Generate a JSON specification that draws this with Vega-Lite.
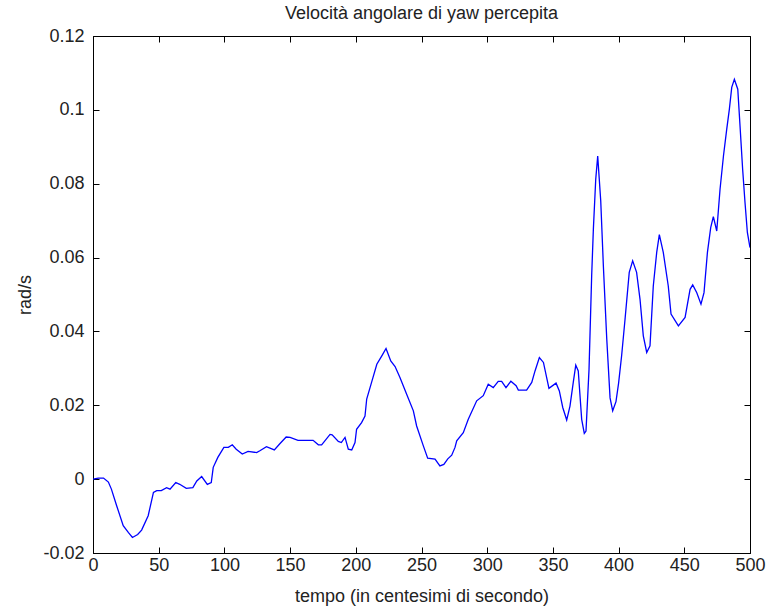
{
  "$schema": "https://vega.github.io/schema/vega-lite/v6.json",
  "width": 657,
  "height": 517,
  "autosize": {"type": "none"},
  "padding": {"left": 93, "top": 36, "right": 19, "bottom": 58},
  "background": "white",
  "title": {"text": "Velocità angolare di yaw percepita", "font": "Liberation Sans", "fontSize": 18, "fontWeight": "normal", "color": "#222222", "offset": 4},
  "config": {
    "view": {"stroke": "black", "strokeWidth": 1},
    "axis": {"grid": false, "domainColor": "black", "tickColor": "black", "labelColor": "#222222", "titleColor": "#222222", "labelFont": "Liberation Sans", "titleFont": "Liberation Sans", "labelFontSize": 18, "titleFontSize": 18, "titleFontWeight": "normal", "tickSize": -6, "labelPadding": 9, "labelFlush": false, "labelOverlap": false},
    "axisLeft": {"labelPadding": 15}
  },
  "datasets": {
    "yaw": [
      {"t": 0, "v": 0}, {"t": 4, "v": 0.0003}, {"t": 8, "v": 0.0003}, {"t": 11.7, "v": -0.0008}, {"t": 14, "v": -0.0027}, {"t": 18, "v": -0.0072}, {"t": 23, "v": -0.0126}, {"t": 27, "v": -0.0145}, {"t": 30, "v": -0.0158}, {"t": 34, "v": -0.015}, {"t": 37, "v": -0.0138}, {"t": 42, "v": -0.0099}, {"t": 46, "v": -0.0036}, {"t": 48.5, "v": -0.0031}, {"t": 52, "v": -0.0031}, {"t": 56, "v": -0.0023}, {"t": 58.6, "v": -0.0027}, {"t": 63, "v": -0.0009}, {"t": 66, "v": -0.0014}, {"t": 71, "v": -0.0025}, {"t": 76, "v": -0.0023}, {"t": 79, "v": -0.0005}, {"t": 82.7, "v": 0.0007}, {"t": 87, "v": -0.0014}, {"t": 90, "v": -0.0009}, {"t": 91.5, "v": 0.0032}, {"t": 95, "v": 0.0059}, {"t": 99.6, "v": 0.0086}, {"t": 103, "v": 0.0086}, {"t": 106, "v": 0.0093}, {"t": 109, "v": 0.0081}, {"t": 113.6, "v": 0.0068}, {"t": 118, "v": 0.0075}, {"t": 124.5, "v": 0.0072}, {"t": 127, "v": 0.0077}, {"t": 132, "v": 0.0088}, {"t": 138, "v": 0.0079}, {"t": 142, "v": 0.0095}, {"t": 147, "v": 0.0114}, {"t": 150, "v": 0.0113}, {"t": 156, "v": 0.0105}, {"t": 167.5, "v": 0.0105}, {"t": 171.5, "v": 0.0093}, {"t": 174, "v": 0.0093}, {"t": 180.4, "v": 0.0121}, {"t": 182, "v": 0.012}, {"t": 186.7, "v": 0.0102}, {"t": 189, "v": 0.0099}, {"t": 191.8, "v": 0.0113}, {"t": 194.3, "v": 0.0081}, {"t": 196.9, "v": 0.0079}, {"t": 199.4, "v": 0.0099}, {"t": 200.6, "v": 0.0135}, {"t": 204.4, "v": 0.0153}, {"t": 207, "v": 0.0171}, {"t": 208.3, "v": 0.0217}, {"t": 212, "v": 0.0262}, {"t": 216, "v": 0.0311}, {"t": 219.8, "v": 0.0334}, {"t": 223, "v": 0.0354}, {"t": 226.6, "v": 0.032}, {"t": 229.9, "v": 0.0305}, {"t": 233.6, "v": 0.0275}, {"t": 238.7, "v": 0.023}, {"t": 243.8, "v": 0.0185}, {"t": 246.3, "v": 0.0144}, {"t": 251.4, "v": 0.009}, {"t": 254.7, "v": 0.0057}, {"t": 260.3, "v": 0.0054}, {"t": 264, "v": 0.0036}, {"t": 267, "v": 0.004}, {"t": 270, "v": 0.0055}, {"t": 273, "v": 0.0065}, {"t": 275.5, "v": 0.0086}, {"t": 276.8, "v": 0.0104}, {"t": 281.8, "v": 0.0126}, {"t": 285.6, "v": 0.0162}, {"t": 292, "v": 0.0212}, {"t": 297, "v": 0.0226}, {"t": 300.8, "v": 0.0257}, {"t": 304.6, "v": 0.0248}, {"t": 308.4, "v": 0.0265}, {"t": 311, "v": 0.0265}, {"t": 314.3, "v": 0.0248}, {"t": 318, "v": 0.0265}, {"t": 322, "v": 0.0253}, {"t": 323.7, "v": 0.0241}, {"t": 330, "v": 0.0241}, {"t": 333.9, "v": 0.0262}, {"t": 336.4, "v": 0.0293}, {"t": 339.7, "v": 0.0329}, {"t": 342.8, "v": 0.0316}, {"t": 347, "v": 0.0246}, {"t": 352.4, "v": 0.026}, {"t": 354.9, "v": 0.0239}, {"t": 357.5, "v": 0.0194}, {"t": 360.5, "v": 0.016}, {"t": 363, "v": 0.0198}, {"t": 365.5, "v": 0.0262}, {"t": 367.4, "v": 0.0309}, {"t": 369.3, "v": 0.0293}, {"t": 371.9, "v": 0.0162}, {"t": 373.9, "v": 0.0124}, {"t": 375.2, "v": 0.013}, {"t": 377.5, "v": 0.0298}, {"t": 379.5, "v": 0.055}, {"t": 380.8, "v": 0.0677}, {"t": 382.6, "v": 0.0812}, {"t": 384.1, "v": 0.0875}, {"t": 386.4, "v": 0.0754}, {"t": 388.4, "v": 0.0578}, {"t": 391, "v": 0.0379}, {"t": 393.5, "v": 0.022}, {"t": 395.5, "v": 0.0185}, {"t": 398, "v": 0.021}, {"t": 400, "v": 0.026}, {"t": 402.3, "v": 0.0334}, {"t": 404.9, "v": 0.0433}, {"t": 408.1, "v": 0.056}, {"t": 410.7, "v": 0.0591}, {"t": 413.7, "v": 0.056}, {"t": 416.3, "v": 0.0487}, {"t": 418.8, "v": 0.0388}, {"t": 421.4, "v": 0.0343}, {"t": 423.9, "v": 0.0361}, {"t": 426.4, "v": 0.0523}, {"t": 429, "v": 0.0614}, {"t": 431, "v": 0.0662}, {"t": 434, "v": 0.0614}, {"t": 437.8, "v": 0.0523}, {"t": 439.9, "v": 0.0447}, {"t": 445.5, "v": 0.0415}, {"t": 450.6, "v": 0.0438}, {"t": 454.4, "v": 0.0514}, {"t": 456.4, "v": 0.0526}, {"t": 459.5, "v": 0.0505}, {"t": 462.7, "v": 0.0474}, {"t": 465, "v": 0.0505}, {"t": 467.6, "v": 0.0614}, {"t": 470.1, "v": 0.0681}, {"t": 472.1, "v": 0.0711}, {"t": 474.7, "v": 0.0672}, {"t": 477.2, "v": 0.0785}, {"t": 479.8, "v": 0.0875}, {"t": 482.3, "v": 0.0948}, {"t": 484.3, "v": 0.1002}, {"t": 486.1, "v": 0.1061}, {"t": 488.1, "v": 0.1083}, {"t": 490.7, "v": 0.1056}, {"t": 492.4, "v": 0.0957}, {"t": 494.4, "v": 0.0839}, {"t": 496.2, "v": 0.0749}, {"t": 498, "v": 0.0668}, {"t": 500, "v": 0.0627}
    ]
  },
  "data": {"name": "yaw"},
  "layer": [
    {
      "mark": {"type": "line", "color": "#0000ff", "strokeWidth": 1.3, "clip": true},
      "encoding": {
        "x": {"field": "t", "type": "quantitative", "scale": {"domain": [0, 500], "nice": false, "zero": false}, "axis": {"orient": "bottom", "values": [0, 50, 100, 150, 200, 250, 300, 350, 400, 450, 500], "title": "tempo (in centesimi di secondo)", "titlePadding": 13}},
        "y": {"field": "v", "type": "quantitative", "scale": {"domain": [-0.02, 0.12], "nice": false, "zero": false}, "axis": {"orient": "left", "values": [-0.02, 0, 0.02, 0.04, 0.06, 0.08, 0.1, 0.12], "labelExpr": "'' + round(datum.value * 100) / 100", "labelPadding": 15, "title": "rad/s", "titlePadding": 8}}
      }
    },
    {
      "mark": {"type": "line", "opacity": 0},
      "encoding": {
        "x": {"field": "t", "type": "quantitative", "axis": {"orient": "top", "values": [0, 50, 100, 150, 200, 250, 300, 350, 400, 450, 500], "labels": false, "domain": false, "title": null}},
        "y": {"field": "v", "type": "quantitative", "axis": {"orient": "right", "values": [-0.02, 0, 0.02, 0.04, 0.06, 0.08, 0.1, 0.12], "labels": false, "domain": false, "title": null}}
      }
    }
  ],
  "resolve": {"axis": {"x": "independent", "y": "independent"}}
}
